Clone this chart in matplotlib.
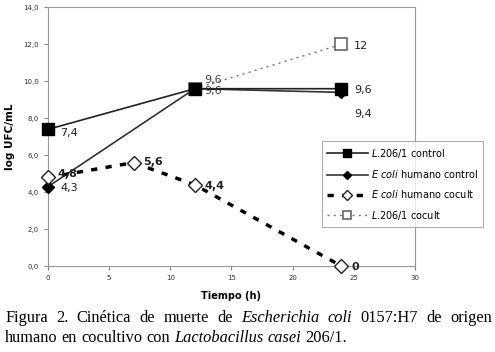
import matplotlib.pyplot as plt
from matplotlib.ticker import FuncFormatter

# datos
t_ctrl = [0, 12, 24]
lact_ctrl = [7.4, 9.6, 9.6]
ecoli_ctrl = [4.3, 9.6, 9.4]
t_cocult = [0, 7, 12, 24]
ecoli_cocult = [4.8, 5.6, 4.4, 0]
t_lact_cocult = [12, 24]
lact_cocult = [9.6, 12]

fig = plt.figure(figsize=(4.95, 3.52), dpi=100)
ax = fig.add_axes([0.097, 0.244, 0.741, 0.735])

ax.plot(t_ctrl, lact_ctrl, color='#222222', lw=1.2, marker='s', ms=9,
        mfc='black', mec='black', label='$\\it{L}$.206/1 control', zorder=4, clip_on=False)
ax.plot(t_ctrl, ecoli_ctrl, color='#333333', lw=1.2, marker='D', ms=6.5,
        mfc='black', mec='black', label='$\\it{E\\ coli}$ humano control', zorder=3, clip_on=False)
ax.plot(t_cocult, ecoli_cocult, color='black', lw=2.5, ls=(0, (1.8, 2.4)),
        marker='D', ms=7, mfc='white', mec='#222222', mew=1,
        label='$\\it{E\\ coli}$ humano cocult', zorder=3, clip_on=False)
ax.plot(t_lact_cocult, lact_cocult, color='#777777', lw=1, ls=(0, (1.5, 3)),
        marker='s', ms=9, mfc='white', mec='#666666', mew=1.2,
        label='$\\it{L}$.206/1 cocult', zorder=2, clip_on=False)

# etiquetas de valores
lab = dict(fontsize=8, color='#222222')
ax.annotate('7,4', (0, 7.4), xytext=(9, -5), textcoords='offset points', **lab)
ax.annotate('4,3', (0, 4.3), xytext=(9, -3), textcoords='offset points', **lab)
ax.annotate('4,8', (0, 4.8), xytext=(7, 0), textcoords='offset points', fontweight='bold', **lab)
ax.annotate('5,6', (7, 5.6), xytext=(7, -2), textcoords='offset points', fontweight='bold', **lab)
ax.annotate('4,4', (12, 4.4), xytext=(7, -3), textcoords='offset points', fontweight='bold', **lab)
ax.annotate('0', (24, 0), xytext=(7, -3), textcoords='offset points', fontweight='bold', **lab)
ax.annotate('9,6', (12, 9.6), xytext=(7, 4), textcoords='offset points', fontsize=8, color='#444444')
ax.annotate('9,6', (12, 9.6), xytext=(7, -4), textcoords='offset points', fontsize=8, color='#444444')
ax.annotate('12', (24, 12), xytext=(9, -3), textcoords='offset points', **lab)
ax.annotate('9,6', (24, 9.6), xytext=(9, -3), textcoords='offset points', **lab)
ax.annotate('9,4', (24, 9.4), xytext=(9, -18), textcoords='offset points', **lab)

ax.set_xlim(0, 30)
ax.set_ylim(0, 14)
ax.set_xticks(range(0, 31, 5))
ax.set_yticks(range(0, 15, 2))
ax.yaxis.set_major_formatter(FuncFormatter(lambda v, p: f'{v:.1f}'.replace('.', ',')))
ax.tick_params(labelsize=5, length=3, color='#888888', labelcolor='#333333')
for s in ax.spines.values():
    s.set_color('#999999')
    s.set_linewidth(0.8)
ax.set_xlabel('Tiempo (h)', fontsize=7, fontweight='bold', labelpad=7)
ax.set_ylabel('log UFC/mL', fontsize=7.5, fontweight='bold', labelpad=6)

leg = fig.legend(loc='upper left', bbox_to_anchor=(0.64, 0.612), fontsize=7,
                 frameon=True, fancybox=False, edgecolor='#999999',
                 handlelength=4.2, markerscale=0.7, labelspacing=0.85,
                 borderpad=0.55, handletextpad=0.3)
leg.get_frame().set_linewidth(0.8)

# pie de figura justificado
fig.canvas.draw()
renderer = fig.canvas.get_renderer()
serif = ['Liberation Serif', 'DejaVu Serif']
cap_size = 11.8


def word_width(w, style):
    t = fig.text(0, 0, w, fontsize=cap_size, family=serif, style=style)
    bb = t.get_window_extent(renderer)
    t.remove()
    return bb.width


line1 = [('Figura', 'normal'), ('2.', 'normal'), ('Cinética', 'normal'), ('de', 'normal'),
         ('muerte', 'normal'), ('de', 'normal'), ('Escherichia', 'italic'), ('coli', 'italic'),
         ('0157:H7', 'normal'), ('de', 'normal'), ('origen', 'normal')]
x0, x1 = 5, 492
widths = [word_width(w, s) for w, s in line1]
gap = (x1 - x0 - sum(widths)) / (len(line1) - 1)
x = x0
for (w, s), wd in zip(line1, widths):
    fig.text(x / 495, 1 - 322 / 352, w, fontsize=cap_size, family=serif, style=s)
    x += wd + gap

line2 = [('humano', 'normal'), ('en', 'normal'), ('cocultivo', 'normal'), ('con', 'normal'),
         ('Lactobacillus', 'italic'), ('casei', 'italic'), ('206/1.', 'normal')]
sp = word_width('a a', 'normal') - 2 * word_width('a', 'normal')
x = x0
for w, s in line2:
    fig.text(x / 495, 1 - 342 / 352, w, fontsize=cap_size, family=serif, style=s)
    x += word_width(w, s) + sp

fig.savefig('out.png', dpi=100)
